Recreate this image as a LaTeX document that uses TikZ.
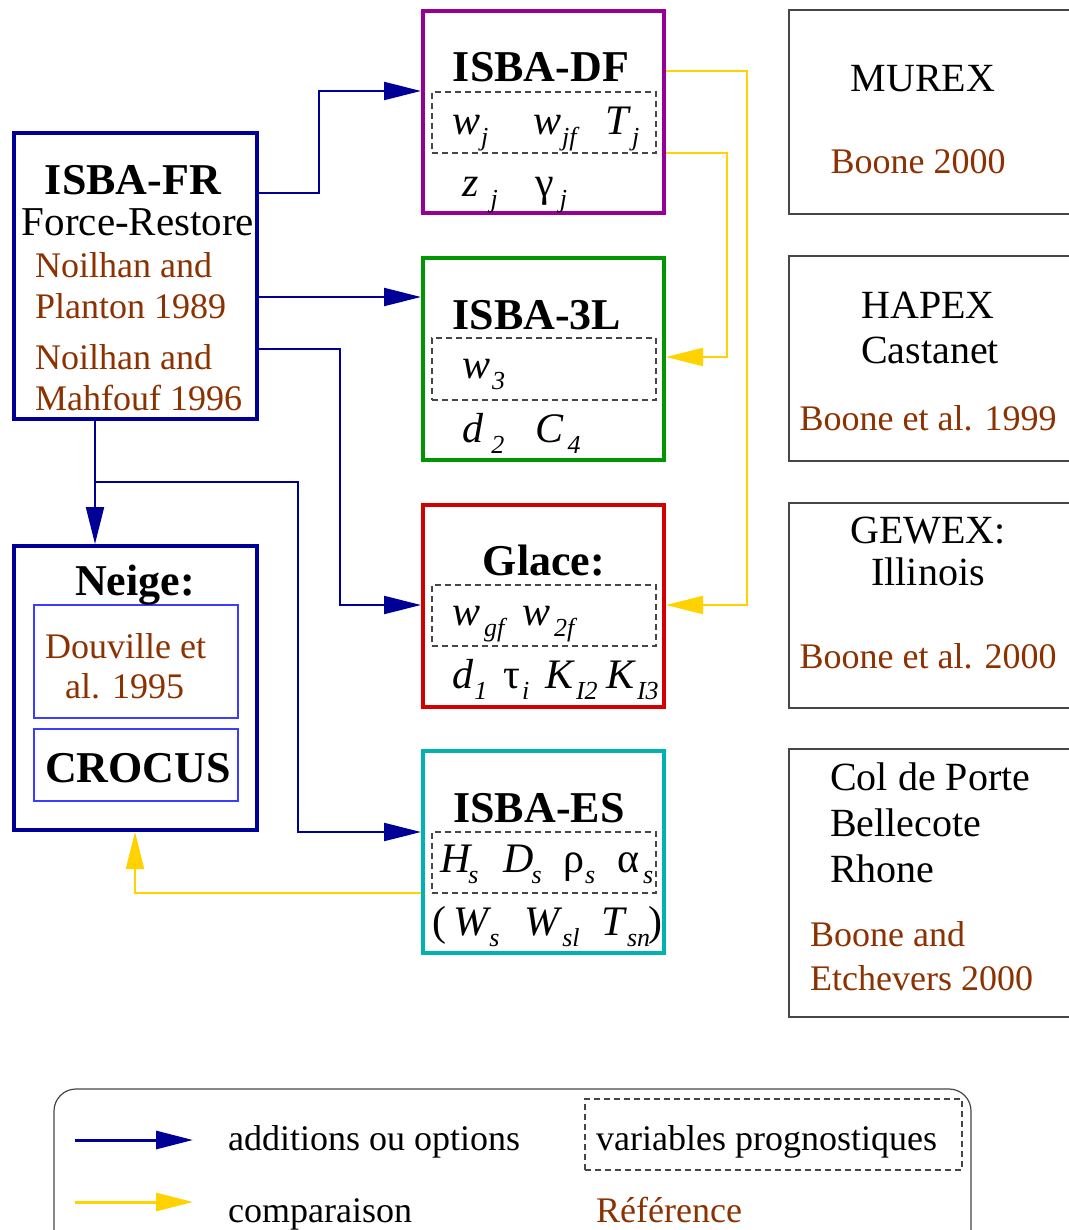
\documentclass[tikz,border=0pt]{standalone}
\usepackage{fontspec}
\setmainfont{Liberation Serif}
\usetikzlibrary{arrows.meta}
\definecolor{navy}{RGB}{0,0,150}
\definecolor{dfpurple}{RGB}{150,0,150}
\definecolor{lgreen}{RGB}{0,150,0}
\definecolor{lred}{RGB}{210,0,0}
\definecolor{lcyan}{RGB}{0,178,178}
\definecolor{refbrown}{RGB}{140,50,0}
\definecolor{cmpyellow}{RGB}{255,210,0}
\definecolor{lightblue}{RGB}{60,60,255}
\definecolor{boxgray}{RGB}{70,70,70}
\newcommand\fs[1]{\fontsize{#1}{#1}\selectfont}
\newcommand\vsub[3][1pt]{\textit{#2}\hspace{#1}\raisebox{-11pt}{\fs{26}\textit{#3}}}
\newcommand\gsub[3][1pt]{#2\hspace{#1}\raisebox{-11pt}{\fs{26}\textit{#3}}}
\begin{document}
\begin{tikzpicture}[x=1pt,y=-1pt,
  model/.style={draw, line width=4pt, minimum width=241pt, minimum height=202pt, inner sep=0pt},
  bigbox/.style={draw=navy, line width=4pt, minimum width=243pt, inner sep=0pt},
  innerbox/.style={draw=lightblue, line width=1.2pt, minimum width=204pt, inner sep=0pt},
  varbox/.style={draw=boxgray, line width=1.2pt, dash pattern=on 6pt off 4pt, minimum width=224pt, minimum height=61pt, inner sep=0pt},
  sitebox/.style={draw=boxgray, line width=1.2pt, minimum width=301pt, inner sep=0pt},
  title/.style={font=\fs{44}\bfseries, anchor=base, inner sep=0pt},
  txt/.style={font=\fs{36}, anchor=base west, inner sep=0pt},
  ref/.style={font=\fs{36}, text=refbrown, inner sep=0pt},
  site/.style={font=\fs{40}, anchor=base, inner sep=0pt},
  var/.style={font=\fs{42}, anchor=base west, inner sep=0pt},
  addl/.style={draw=navy, line width=2pt, -{Triangle[length=37pt,width=18pt]}},
  cmpl/.style={draw=cmpyellow, line width=2pt, -{Triangle[length=37pt,width=18pt]}}
]
\useasboundingbox (0,0) rectangle (1068,1230);
\fill[white] (0,0) rectangle (1068,1230);

% ---------------- model boxes
\node[bigbox, minimum height=286pt] (fr) at (135.5,276) {};
\node[bigbox, minimum height=284pt] (ng) at (135.5,688) {};
\node[model, draw=dfpurple] (df) at (543.5,112) {};
\node[model, draw=lgreen] (l3) at (543.5,359) {};
\node[model, draw=lred] (gl) at (543.5,606) {};
\node[model, draw=lcyan] (es) at (543.5,852) {};

\node[varbox] (vdf) at (544,122.5) {};
\node[varbox, minimum height=62pt] (v3l) at (544,369) {};
\node[varbox] (vgl) at (544,615.5) {};
\node[varbox] (ves) at (544,862.5) {};

\node[innerbox, minimum height=113pt] (dv) at (136,661.5) {};
\node[innerbox, minimum height=72pt] (cr) at (136,765) {};

% ---------------- ISBA-FR texts
\node[title] (tfr) at (133,195) {ISBA-FR};
\node[font=\fs{41}, anchor=base, inner sep=0pt] (tfr2) at (138,236) {Force-Restore};
\node[ref, anchor=base west] (r1) at (35,278) {Noilhan and};
\node[ref, anchor=base west] (r2) at (35,318) {Planton 1989};
\node[ref, anchor=base west] (r3) at (35,369) {Noilhan and};
\node[ref, anchor=base west] (r4) at (35,410) {Mahfouf 1996};

% ---------------- Neige texts
\node[title] (tng) at (135,595) {Neige:};
\node[ref, anchor=base west] (r5) at (45,658) {Douville et};
\node[ref, anchor=base west] (r6) at (65,698) {al. 1995};
\node[title] (tcr) at (138,782) {CROCUS};

% ---------------- ISBA-DF
\node[title] (tdf) at (541,82) {ISBA-DF};
\node[var] (a1) at (452,135) {\vsub{w}{j}};
\node[var] (a2) at (533,135) {\vsub{w}{jf}};
\node[var] (a3) at (605,135) {\vsub{T}{j}};
\node[var] (a4) at (462,197) {\vsub[12pt]{z}{j}};
\node[var] (a5) at (535,197) {\gsub[6pt]{γ}{j}};

% ---------------- ISBA-3L
\node[title] (t3l) at (537,329) {ISBA-3L};
\node[var] (b1) at (462,378) {\vsub[2pt]{w}{3}};
\node[var] (b2) at (462,442) {\vsub[8pt]{d}{2}};
\node[var] (b3) at (535,442) {\vsub[4pt]{C}{4}};

% ---------------- Glace
\node[title] (tgl) at (544,575) {Glace:};
\node[var] (c1) at (452,625) {\vsub[4pt]{w}{gf}};
\node[var] (c2) at (522,625) {\vsub[4pt]{w}{2f}};
\node[var] (c3) at (452,688) {\vsub{d}{1}};
\node[var] (c4) at (503,688) {\gsub[2pt]{τ}{i}};
\node[var] (c5) at (545,688) {\vsub{K}{I2}};
\node[var] (c6) at (606,688) {\vsub{K}{I3}};

% ---------------- ISBA-ES
\node[title] (tes) at (539,822) {ISBA-ES};
\node[var] (d1) at (440,872) {\vsub[-4pt]{H}{s}};
\node[var] (d2) at (503,872) {\vsub[-2pt]{D}{s}};
\node[var] (d3) at (563,872) {\gsub[1pt]{ρ}{s}};
\node[var] (d4) at (617,872) {\gsub[4pt]{α}{s}};
\node[var] (d5) at (432,935) {(\,\vsub[-2pt]{W}{s}};
\node[var] (d6) at (524,935) {\vsub[0pt]{W}{sl}};
\node[var] (d7) at (601,935) {\vsub[0pt]{T}{sn}\hspace{-2pt})};

% ---------------- site boxes
\node[sitebox, minimum height=204pt] (s1) at (939.5,112) {};
\node[sitebox, minimum height=205pt] (s2) at (939.5,358.5) {};
\node[sitebox, minimum height=205pt] (s3) at (939.5,605.5) {};
\node[sitebox, minimum height=268pt] (s4) at (939.5,883) {};

\node[site] (e1) at (923,92) {MUREX};
\node[ref, anchor=base] (e2) at (918,174) {Boone 2000};
\node[site] (e3) at (928,318) {HAPEX};
\node[site] (e4) at (930,363) {Castanet};
\node[ref, anchor=base] (e5) at (928,430) {Boone et al. 1999};
\node[site] (e6) at (928,543) {GEWEX:};
\node[site] (e7) at (928,585) {Illinois};
\node[ref, anchor=base] (e8) at (928,668) {Boone et al. 2000};
\node[site, anchor=base west] (e9) at (830,790) {Col de Porte};
\node[site, anchor=base west] (e10) at (830,836) {Bellecote};
\node[site, anchor=base west] (e11) at (830,882) {Rhone};
\node[ref, anchor=base west] (e12) at (810,946) {Boone and};
\node[ref, anchor=base west] (e13) at (810,990) {Etchevers 2000};

% ---------------- connector helper coordinates
\coordinate (y71) at (0,71);
\coordinate (y91) at (0,91);
\coordinate (y153) at (0,153);
\coordinate (y193) at (0,193);
\coordinate (y297) at (0,297);
\coordinate (y349) at (0,349);
\coordinate (y357) at (0,357);
\coordinate (y482) at (0,482);
\coordinate (y605) at (0,605);
\coordinate (y832) at (0,832);
\coordinate (y893) at (0,893);
\coordinate (xa) at (319,0);
\coordinate (xb) at (340,0);
\coordinate (xc) at (95,0);
\coordinate (xd) at (298,0);
\coordinate (xe) at (747,0);
\coordinate (xf) at (727,0);
\coordinate (xg) at (135,0);

% ---------------- additions (blue)
\draw[addl] (fr.east |- y193) -| (xa |- y91) -- (df.west |- y91);
\draw[addl] (fr.east |- y297) -- (l3.west |- y297);
\draw[addl] (fr.east |- y349) -| (xb |- y605) -- (gl.west |- y605);
\draw[addl] (fr.south -| xc) -- (ng.north -| xc);
\draw[addl] (xc |- y482) -| (xd |- y832) -- (es.west |- y832);

% ---------------- comparisons (yellow)
\draw[cmpl] (df.east |- y71) -| (xe |- y605) -- (gl.east |- y605);
\draw[cmpl] (df.east |- y153) -| (xf |- y357) -- (l3.east |- y357);
\draw[cmpl] (es.west |- y893) -| (ng.south -| xg);

% ---------------- legend
\node[draw=boxgray, line width=1.2pt, rounded corners=22pt, minimum width=917pt, minimum height=171pt, inner sep=0pt] (leg) at (512.5,1174.5) {};
\node[varbox, minimum width=377pt, minimum height=71pt] (lvb) at (773.5,1134.5) {};
\coordinate (la1) at (75,1140);
\coordinate (la2) at (193,1140);
\coordinate (lb1) at (75,1202);
\coordinate (lb2) at (193,1202);
\draw[addl, line width=3pt] (la1) -- (la2);
\draw[cmpl, line width=3pt] (lb1) -- (lb2);
\node[txt] (l1) at (228,1150) {additions ou options};
\node[txt] (l2) at (228,1222) {comparaison};
\node[txt] (l3t) at (596,1150) {variables prognostiques};
\node[ref, anchor=base west] (l4) at (596,1222) {Référence};
\end{tikzpicture}
\end{document}
